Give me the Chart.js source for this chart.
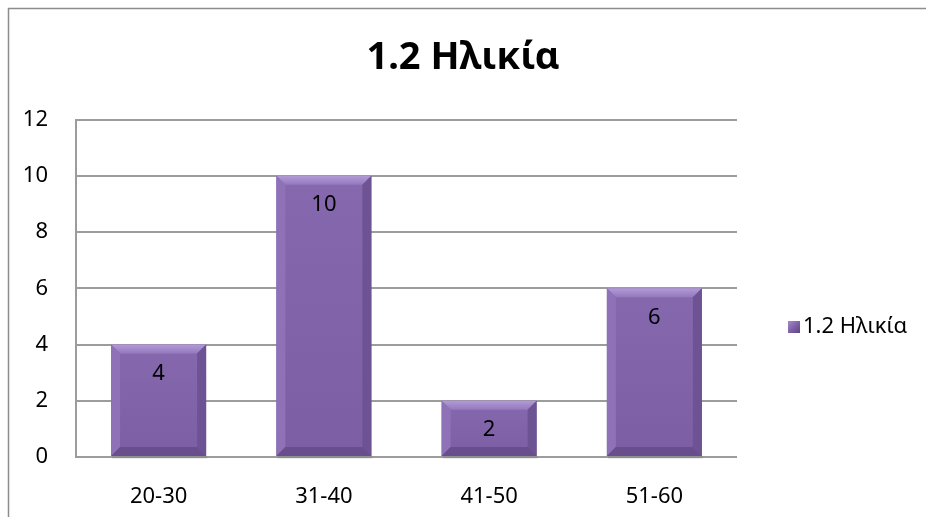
<!DOCTYPE html>
<html>
<head>
<meta charset="utf-8">
<script src="https://cdn.jsdelivr.net/npm/chart.js@4.4.1/dist/chart.umd.min.js"></script>
<style>
  html, body { margin: 0; padding: 0; background: #ffffff; }
  #wrap { width: 926px; height: 517px; }
</style>
</head>
<body>
<div id="wrap"><canvas id="c" width="926" height="517"></canvas></div>
<script>
// Age groups and number of respondents in each
const categories = ['20-30', '31-40', '41-50', '51-60'];
const counts = [4, 10, 2, 6];
const seriesName = '1.2 Ηλικία';
const titleText = '1.2 Ηλικία';
const yTicks = [0, 2, 4, 6, 8, 10, 12];

const FONT = '"Noto Sans", "Open Sans", sans-serif';
const GRID = '#9c9c9c';

// White page with the outer frame of the chart object
const framePlugin = {
  id: 'frame',
  beforeDraw(chart) {
    const ctx = chart.ctx;
    ctx.save();
    ctx.fillStyle = '#ffffff';
    ctx.fillRect(0, 0, chart.width, chart.height);
    ctx.strokeStyle = '#8c8c8c';
    ctx.lineWidth = 1.5;
    ctx.strokeRect(8.5, 8.5, chart.width + 20, chart.height + 20);
    ctx.restore();
  }
};

// Bevelled bar faces, soft shadow and value labels
function faceGradient(ctx, top, bottom) {
  const g = ctx.createLinearGradient(0, top, 0, bottom);
  g.addColorStop(0, '#8668ae');
  g.addColorStop(1, '#7b5ea4');
  return g;
}

const bevelPlugin = {
  id: 'bevel',
  afterDatasetsDraw(chart) {
    const ctx = chart.ctx;
    const meta = chart.getDatasetMeta(0);
    meta.data.forEach((bar, i) => {
      const p = bar.getProps(['x', 'y', 'base', 'width'], true);
      const l = p.x - p.width / 2, r = p.x + p.width / 2;
      const t = p.y, b = p.base;
      const bv = Math.min(9, (b - t) / 3);
      ctx.save();
      // shadow under the bar
      ctx.fillStyle = 'rgba(0,0,0,0.08)';
      ctx.fillRect(l + 1, b, p.width, 3);
      // face
      ctx.fillStyle = faceGradient(ctx, t, b);
      ctx.fillRect(l, t, p.width, b - t);
      // top bevel (light)
      const tg = ctx.createLinearGradient(0, t, 0, t + bv);
      tg.addColorStop(0, '#b29ad6');
      tg.addColorStop(1, '#9478bd');
      ctx.fillStyle = tg;
      ctx.beginPath();
      ctx.moveTo(l, t); ctx.lineTo(r, t); ctx.lineTo(r - bv, t + bv); ctx.lineTo(l + bv, t + bv);
      ctx.closePath(); ctx.fill();
      // left bevel
      ctx.fillStyle = '#8e71b6';
      ctx.beginPath();
      ctx.moveTo(l, t); ctx.lineTo(l + bv, t + bv); ctx.lineTo(l + bv, b - bv); ctx.lineTo(l, b);
      ctx.closePath(); ctx.fill();
      // right bevel (dark)
      ctx.fillStyle = '#6d5393';
      ctx.beginPath();
      ctx.moveTo(r, t); ctx.lineTo(r - bv, t + bv); ctx.lineTo(r - bv, b - bv); ctx.lineTo(r, b);
      ctx.closePath(); ctx.fill();
      // bottom bevel (darker)
      ctx.fillStyle = '#684e8c';
      ctx.beginPath();
      ctx.moveTo(l, b); ctx.lineTo(l + bv, b - bv); ctx.lineTo(r - bv, b - bv); ctx.lineTo(r, b);
      ctx.closePath(); ctx.fill();
      // value label
      ctx.fillStyle = '#000000';
      ctx.font = '22px ' + FONT;
      ctx.textAlign = 'center';
      ctx.textBaseline = 'middle';
      ctx.fillText(String(chart.data.datasets[0].data[i]), p.x, t + 29);
      ctx.restore();
    });
  }
};

// Legend entry to the right of the plot
const legendPlugin = {
  id: 'sideLegend',
  afterDraw(chart) {
    const ctx = chart.ctx;
    const area = chart.chartArea;
    const x = area.right + 51;
    const y = 327;
    ctx.save();
    const g = ctx.createLinearGradient(x, y - 6, x + 12, y + 6);
    g.addColorStop(0, '#a68bcb');
    g.addColorStop(0.5, '#7f61a8');
    g.addColorStop(1, '#5d467e');
    ctx.fillStyle = g;
    ctx.fillRect(x, y - 6, 12, 12);
    ctx.fillStyle = '#000000';
    ctx.font = '22px ' + FONT;
    ctx.textAlign = 'left';
    ctx.textBaseline = 'middle';
    ctx.fillText(chart.data.datasets[0].label, x + 15, y);
    ctx.restore();
  }
};

new Chart(document.getElementById('c'), {
  type: 'bar',
  data: {
    labels: categories,
    datasets: [{
      label: seriesName,
      data: counts,
      backgroundColor: 'rgba(0,0,0,0)',
      borderWidth: 0,
      barPercentage: 0.575,
      categoryPercentage: 1.0
    }]
  },
  options: {
    responsive: false,
    animation: false,
    layout: { padding: 0 },
    plugins: {
      legend: { display: false },
      tooltip: { enabled: false },
      title: {
        display: true,
        text: titleText,
        color: '#000000',
        font: { family: FONT, size: 38, weight: 'bold', lineHeight: 1.2 },
        padding: { top: 35, bottom: 39 }
      }
    },
    scales: {
      x: {
        grid: { display: false, drawTicks: false },
        border: { display: false },
        ticks: { color: '#000000', font: { family: FONT, size: 22 }, padding: 27 },
        afterFit(scale) { scale.height = 60; }
      },
      y: {
        min: 0,
        max: 12,
        afterBuildTicks(scale) { scale.ticks = yTicks.map(v => ({ value: v })); },
        grid: { color: GRID, lineWidth: 2, drawTicks: false },
        border: { display: true, color: GRID, width: 2 },
        ticks: { color: '#000000', font: { family: FONT, size: 22 }, padding: 28 },
        afterFit(scale) { scale.width = 76; }
      },
      // reserves the column on the right that holds the legend
      side: {
        position: 'right',
        type: 'linear',
        display: true,
        grid: { display: false, drawTicks: false },
        border: { display: false },
        ticks: { display: false },
        afterFit(scale) { scale.width = 189; }
      }
    }
  },
  plugins: [framePlugin, bevelPlugin, legendPlugin]
});
</script>
</body>
</html>
